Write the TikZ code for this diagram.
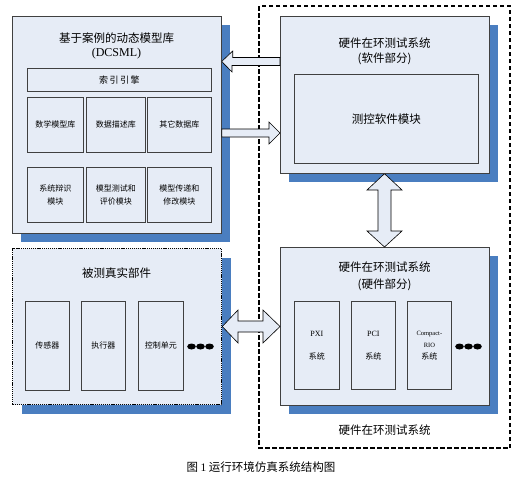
\documentclass[tikz,border=0pt]{standalone}
\usepackage{fontspec}
\setmainfont{Liberation Serif}
\newfontfamily\cjk{Noto Sans CJK SC}
\usetikzlibrary{shadows}
\definecolor{boxfill}{HTML}{E6ECF6}
\definecolor{shadowblue}{HTML}{4A7EC0}
\definecolor{edge}{HTML}{404040}
\begin{document}
\begin{tikzpicture}[x=1pt,y=-1pt,
  box/.style={draw=edge, line width=0.7pt, fill=boxfill, inner sep=0pt, anchor=north west},
  shbox/.style={box, drop shadow={shadow xshift=9pt, shadow yshift=-9pt, fill=shadowblue, opacity=1}},
  dotbox/.style={shbox, draw=black, line width=1.3pt, dash pattern=on 1.2pt off 0.9pt},
  title/.style={font=\cjk\fontsize{11.5}{14}\selectfont, inner sep=0pt},
  small/.style={font=\cjk\fontsize{8}{13}\selectfont, inner sep=0pt, align=center},
  latin/.style={font=\fontsize{8}{10}\selectfont, inner sep=0pt},
  tiny/.style={font=\fontsize{6.5}{8}\selectfont, inner sep=0pt},
  blockarrow/.style={draw=black, line width=0.6pt, fill=boxfill, line join=miter},
  dotmark/.style={fill=black}
]
\useasboundingbox (0,0) rectangle (516,482);

% outer dashed frame
\draw[line width=1.2pt, dash pattern=on 4.5pt off 2.5pt] (259,6) rectangle (510,448);

% DCSML library
\node[shbox, minimum width=209pt, minimum height=217pt] (dcsml) at (12,16) {};
\node[title] (dcsmlt) at (116.5,38) {基于案例的动态模型库};
\node[font=\fontsize{12}{14}\selectfont, inner sep=0pt] (dcsmlt2) at (116.5,54) {(DCSML)};
\node[box, minimum width=184pt, minimum height=23pt] (index) at (27,68) {};
\node[font=\cjk\fontsize{9}{11}\selectfont, inner sep=0pt] at (index.center) {索\,引\,引\,擎};
\node[box, minimum width=56pt, minimum height=55pt] (m1) at (27,97) {};
\node[box, minimum width=59pt, minimum height=55pt] (m2) at (86,97) {};
\node[box, minimum width=64pt, minimum height=55pt] (m3) at (147,97) {};
\node[small] at (m1.center) {数学模型库};
\node[small] at (m2.center) {数据描述库};
\node[small] at (m3.center) {其它数据库};
\node[box, minimum width=56pt, minimum height=55pt] (n1) at (27,167) {};
\node[box, minimum width=59pt, minimum height=55pt] (n2) at (86,167) {};
\node[box, minimum width=64pt, minimum height=55pt] (n3) at (147,167) {};
\node[small] at (n1.center) {系统辩识\\模块};
\node[small] at (n2.center) {模型测试和\\评价模块};
\node[small] at (n3.center) {模型传递和\\修改模块};

% HIL software part
\node[shbox, minimum width=209pt, minimum height=157pt] (sw) at (280,16) {};
\node[title] (swt) at (384.5,43) {硬件在环测试系统};
\node[title] (swt2) at (384.5,59) {(软件部分)};
\node[box, minimum width=184pt, minimum height=89pt] (swin) at (294,74) {};
\node[title] at (swin.center) {测控软件模块};

% HIL hardware part
\node[shbox, minimum width=209pt, minimum height=158pt] (hw) at (280,247) {};
\node[title] (hwt) at (384.5,267) {硬件在环测试系统};
\node[title] (hwt2) at (384.5,285) {(硬件部分)};
\node[box, minimum width=45pt, minimum height=88pt] (h1) at (294,301) {};
\node[box, minimum width=44pt, minimum height=88pt] (h2) at (351,301) {};
\node[box, minimum width=44pt, minimum height=88pt] (h3) at (407,301) {};
\node[latin] at (h1.center |- 0,334) {PXI};
\node[small] at (h1.center |- 0,356) {系统};
\node[latin] at (h2.center |- 0,334) {PCI};
\node[small] at (h2.center |- 0,356) {系统};
\node[tiny] at (h3.center |- 0,334) {Compact-};
\node[tiny] at (h3.center |- 0,345) {RIO};
\node[small] at (h3.center |- 0,356) {系统};
\foreach \x in {459.5,468.5,477.5} \fill[dotmark] (\x,346.5) ellipse (4.3pt and 3pt);

% real parts under test
\node[dotbox, minimum width=209pt, minimum height=156pt] (real) at (12,248) {};
\node[title] (realt) at (116.5,273) {被测真实部件};
\node[box, minimum width=44pt, minimum height=89pt] (r1) at (25,301) {};
\node[box, minimum width=44pt, minimum height=89pt] (r2) at (81,301) {};
\node[box, minimum width=45pt, minimum height=89pt] (r3) at (138,301) {};
\node[small] at (r1.center) {传感器};
\node[small] at (r2.center) {执行器};
\node[small] at (r3.center) {控制单元};
\foreach \x in {191.5,200.5,209.5} \fill[dotmark] (\x,346.5) ellipse (4.3pt and 3pt);

% label of dashed frame
\node[title] (hilt) at (384.5,430) {硬件在环测试系统};

% block arrows
\coordinate (a1) at (dcsml.east |- 0,61.5);
\coordinate (a1e) at (sw.west |- 0,61.5);
\draw[blockarrow] (a1) -- ++(11,-10.5) -- ++(0,6.5) -- (a1e |- 0,57.5) -- (a1e |- 0,65.5) -- (232,65.5) -- ++(0,6.5) -- cycle;

\coordinate (a2) at (sw.west |- 0,133);
\coordinate (a2s) at (dcsml.east |- 0,133);
\draw[blockarrow] (a2) -- ++(-11,-11) -- ++(0,7) -- (a2s |- 0,129) -- (a2s |- 0,137) -- (269,137) -- ++(0,7) -- cycle;

\coordinate (a3t) at (sw.south -| 384.5,0);
\coordinate (a3b) at (hw.north -| 384.5,0);
\draw[blockarrow] (a3t) -- (402,190) -- (391,190) -- (391,231) -- (402,231) -- (a3b) -- (367,231) -- (378,231) -- (378,190) -- (367,190) -- cycle;

\coordinate (a4l) at (real.east |- 0,326.5);
\coordinate (a4r) at (hw.west |- 0,326.5);
\draw[blockarrow] (a4l) -- (238,310) -- (238,321) -- (263,321) -- (263,310) -- (a4r) -- (263,343) -- (263,332) -- (238,332) -- (238,343) -- cycle;

% caption
\node[font=\cjk\fontsize{11.5}{13}\selectfont, inner sep=0pt] (cap) at (261,467) {图 {\rmfamily 1} 运行环境仿真系统结构图};
\end{tikzpicture}
\end{document}
